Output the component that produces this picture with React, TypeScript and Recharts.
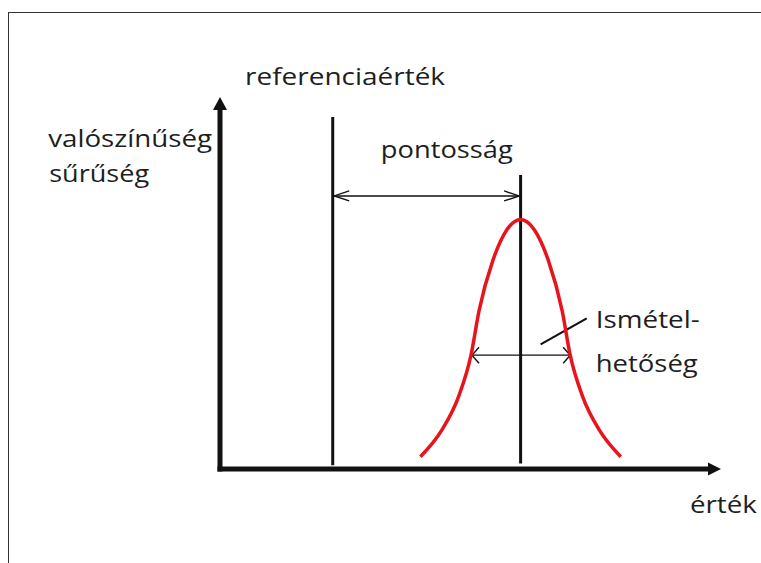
import { ComposedChart, Line, XAxis, YAxis, ReferenceLine, ReferenceDot } from 'recharts';

// values, x and y both on a 0..100 scale
const curveX = [40, 44.3, 47.6, 50.1, 51.7, 54.5, 57.2, 60, 62.8, 65.5, 68.3, 69.9, 72.4, 75.7, 80];
const curveY = [3.3, 10.5, 19.4, 30.6, 42.5, 56.2, 64.2, 67.1, 64.2, 56.2, 42.5, 30.6, 19.4, 10.5, 3.3];
const curve = curveX.map((x, i) => ({ x, y: curveY[i] }));

const referenceValue = 22.5;
const referenceTop = 94.6;
const meanValue = 60;
const meanTop = 79;
const accuracyLevel = 73.4;
const repeatLevel = 30.6;
const repeatFrom = 50.3;
const repeatTo = 69.9;
const leader = [{ x: 64.0, y: 33.5 }, { x: 73.2, y: 40.5 }];

const labels = ['referenciaérték', 'valószínűség', 'sűrűség', 'pontosság', 'Ismétel-', 'hetőség', 'érték'];

// text placement: left x / baseline y in chart units, plus drawn width in px
const labelPos = [
  { x: 5, y: 103.2, w: 200 },
  { x: -34.3, y: 86.6, w: 164 },
  { x: -34.1, y: 77.2, w: 100 },
  { x: 32.1, y: 83.6, w: 132 },
  { x: 75, y: 37.9, w: 104 },
  { x: 75, y: 26.1, w: 102 },
  { x: 93.8, y: -11.8, w: 67 },
];

type Head = { len: number; half: number; filled?: boolean };

function arrow(width: number, start?: Head, end?: Head, cap: 'butt' | 'square' = 'butt') {
  return (p: any) => {
    const { x1, y1, x2, y2 } = p;
    const d = Math.hypot(x2 - x1, y2 - y1) || 1;
    const ux = (x2 - x1) / d;
    const uy = (y2 - y1) / d;
    const nx = -uy;
    const ny = ux;
    let sx = x1, sy = y1, ex = x2, ey = y2;
    const parts: any[] = [];
    const head = (tx: number, ty: number, dx: number, dy: number, h: Head, key: string) => {
      const bx = tx - dx * h.len;
      const by = ty - dy * h.len;
      const a = `${bx + nx * h.half},${by + ny * h.half}`;
      const b = `${bx - nx * h.half},${by - ny * h.half}`;
      if (h.filled) {
        parts.push(<polygon key={key} points={`${tx},${ty} ${a} ${b}`} fill="#111" />);
      } else {
        parts.push(<polyline key={key} points={`${a} ${tx},${ty} ${b}`} fill="none" stroke="#111" strokeWidth={1.4} />);
      }
      return h.filled ? [bx + dx, by + dy] : [tx, ty];
    };
    if (end) [ex, ey] = head(x2, y2, ux, uy, end, 'e');
    if (start) [sx, sy] = head(x1, y1, -ux, -uy, start, 's');
    return (
      <g>
        <line x1={sx} y1={sy} x2={ex} y2={ey} stroke="#111" strokeWidth={width} strokeLinecap={cap} />
        {parts}
      </g>
    );
  };
}

const textShape = (text: string, w: number) => (p: any) => (
  <text
    x={p.cx}
    y={p.cy}
    fontFamily="Open Sans"
    fontSize={24}
    fill="#1e1e1e"
    textLength={w}
    lengthAdjust="spacingAndGlyphs"
  >
    {text}
  </text>
);

export default function App() {
  return (
    <div style={{ position: 'absolute', left: 0, top: 0, width: 761, height: 563, background: '#fff' }}>
      <div
        style={{
          position: 'absolute',
          left: 8,
          top: 12,
          right: 0,
          bottom: 0,
          borderTop: '1.5px solid #333',
          borderLeft: '1.5px solid #333',
        }}
      />
      <ComposedChart
        width={761}
        height={563}
        data={curve}
        margin={{ top: 97, right: 40, bottom: 94, left: 220 }}
        style={{ position: 'absolute', left: 0, top: 0 }}
      >
        <XAxis dataKey="x" type="number" domain={[0, 100]} hide />
        <YAxis type="number" domain={[0, 100]} hide />

        <ReferenceLine
          segment={[{ x: 0, y: 0 }, { x: 100, y: 0 }]}
          ifOverflow="visible"
          shape={arrow(5, undefined, { len: 13, half: 6.5, filled: true }, 'square')}
        />
        <ReferenceLine
          segment={[{ x: 0, y: 0 }, { x: 0, y: 100 }]}
          ifOverflow="visible"
          shape={arrow(5, undefined, { len: 13, half: 7, filled: true }, 'square')}
        />

        <ReferenceLine
          segment={[{ x: referenceValue, y: 1 }, { x: referenceValue, y: referenceTop }]}
          ifOverflow="visible"
          shape={arrow(3)}
        />
        <ReferenceLine
          segment={[{ x: meanValue, y: 1.5 }, { x: meanValue, y: meanTop }]}
          ifOverflow="visible"
          shape={arrow(3)}
        />

        <ReferenceLine
          segment={[{ x: referenceValue + 0.3, y: accuracyLevel }, { x: meanValue - 0.3, y: accuracyLevel }]}
          ifOverflow="visible"
          shape={arrow(1.4, { len: 15, half: 5 }, { len: 15, half: 5 })}
        />
        <ReferenceLine
          segment={[{ x: repeatFrom, y: repeatLevel }, { x: repeatTo, y: repeatLevel }]}
          ifOverflow="visible"
          shape={arrow(1.4, { len: 7, half: 8 }, { len: 7, half: 8 })}
        />
        <ReferenceLine segment={leader} ifOverflow="visible" stroke="#111" strokeWidth={2.2} />

        <Line
          dataKey="y"
          type="monotone"
          stroke="#e8141c"
          strokeWidth={3.5}
          dot={false}
          activeDot={false}
          isAnimationActive={false}
        />

        {labels.map((t, i) => (
          <ReferenceDot
            key={t}
            x={labelPos[i].x}
            y={labelPos[i].y}
            r={0}
            ifOverflow="visible"
            shape={textShape(t, labelPos[i].w)}
          />
        ))}
      </ComposedChart>
    </div>
  );
}
